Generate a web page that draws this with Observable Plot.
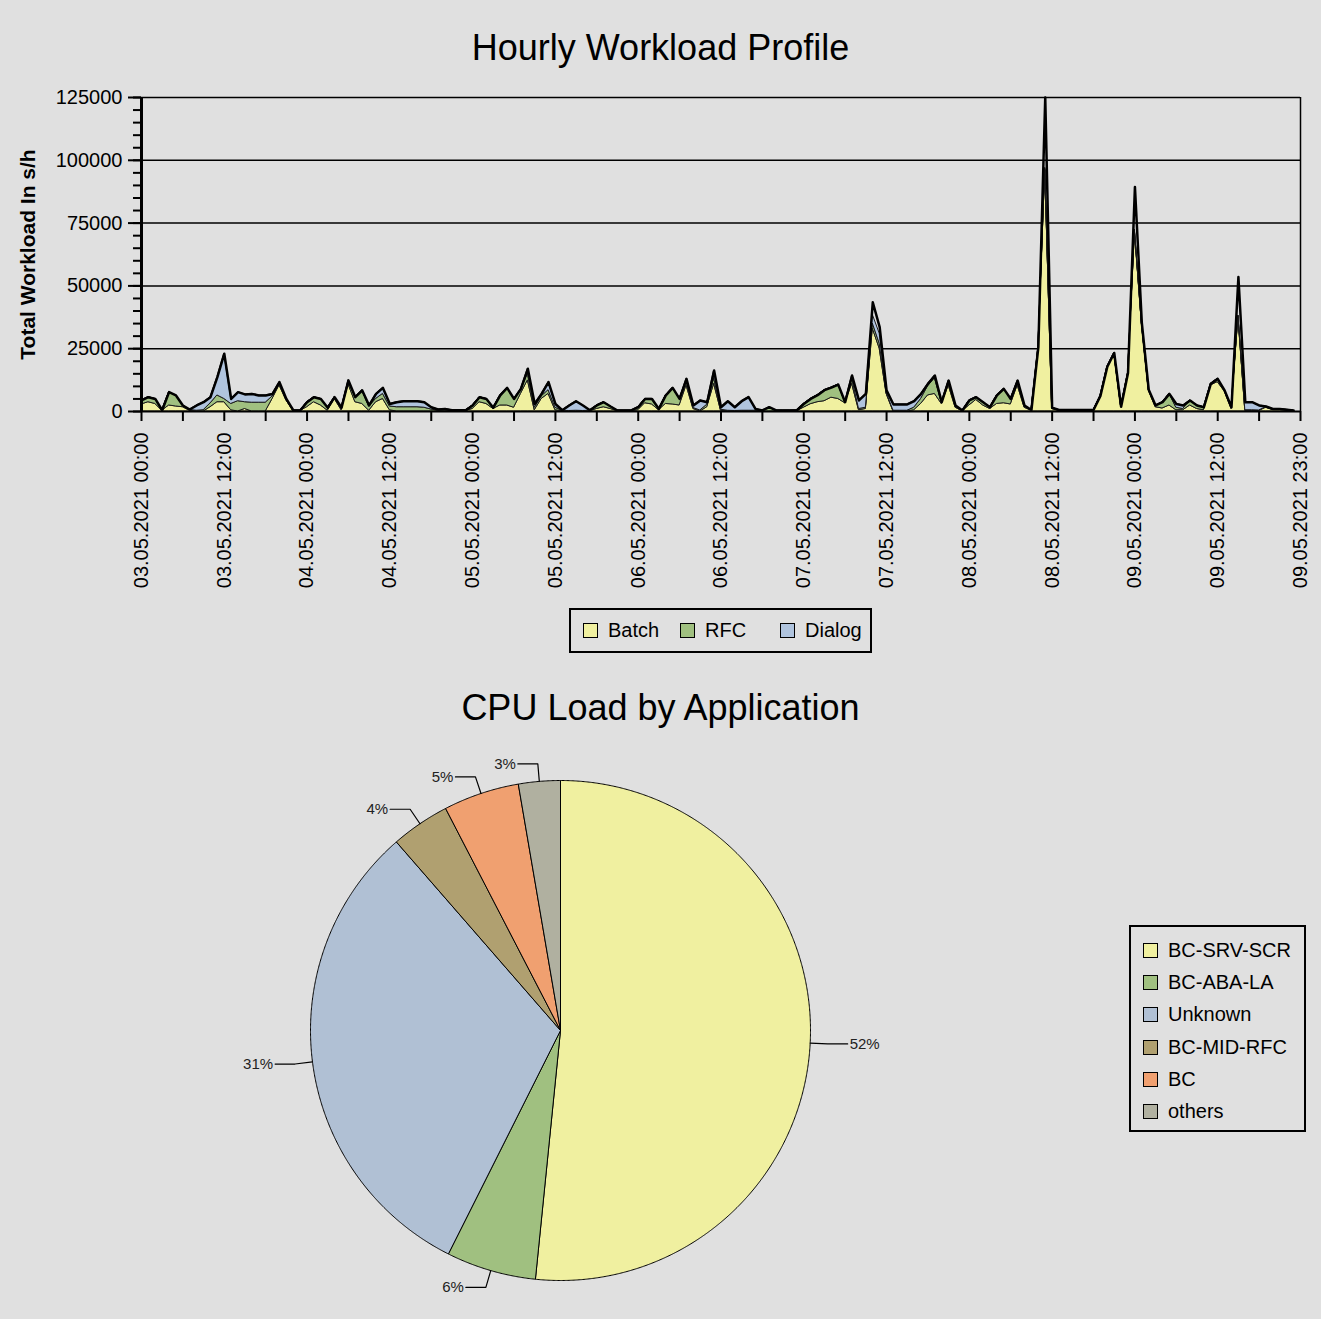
<!DOCTYPE html>
<html><head><meta charset="utf-8">
<script src="https://cdn.jsdelivr.net/npm/d3@7"></script>
<script src="https://cdn.jsdelivr.net/npm/@observablehq/plot@0.6"></script>
<style>
html,body{margin:0;padding:0;background:#e0e0e0;}
#root{position:relative;width:1321px;height:1319px;overflow:hidden;background:#e0e0e0;font-family:"Liberation Sans",Arial,sans-serif;color:#000;}
.title{position:absolute;left:0;width:1321px;text-align:center;font-size:36px;line-height:36px;}
.chart{position:absolute;left:0;}
.legend{position:absolute;border:2px solid #000;box-sizing:border-box;font-size:20px;}
.item{position:absolute;display:flex;align-items:center;white-space:nowrap;}
.sw{display:inline-block;width:15px;height:15px;border:1.5px solid #000;box-sizing:border-box;margin-right:10px;}
</style></head>
<body><div id="root">
<div class="title" style="top:30px">Hourly Workload Profile</div>
<div class="title" style="top:690px">CPU Load by Application</div>
<div id="c1" class="chart" style="top:0"></div>
<div id="c2" class="chart" style="top:680px"></div>
<div id="lg1" class="legend" style="left:569px;top:608px;width:303px;height:45px"></div>
<div id="lg2" class="legend" style="left:1129px;top:925px;width:177px;height:207px"></div>
</div>
<script>
// ---------- Hourly workload data (s/h), 03.05.2021 00:00 .. 09.05.2021 23:00 ----------
const seriesNames = ["Batch", "RFC", "Dialog"];
const seriesColors = ["#f0f0a0", "#a0c080", "#b0c4de"];
const batch = [
2800,3700,3000,300,2400,2000,1700,300,0,0,
1700,3700,3700,500,0,1000,0,0,0,5000,
10400,4400,200,200,1700,3700,2400,300,5000,500,
10800,3700,3000,300,3700,5000,500,0,0,0,
0,0,0,0,0,200,200,200,1000,3700,
3000,1000,2400,2400,1500,7000,12400,500,5000,7000,
500,100,0,0,0,100,1000,1700,1000,100,
100,100,500,3300,2800,500,3000,2800,2400,10400,
1000,0,1700,11000,300,0,0,0,0,0,
0,0,100,100,100,100,1500,2900,3700,4100,
5500,5000,3300,11000,500,1000,33000,25000,7000,0,
0,0,500,3000,6400,7000,3000,10400,1500,100,
2400,4600,2400,1000,3000,3300,2800,10400,1500,300,
25000,96000,1000,300,300,300,300,300,300,6000,
17600,23000,1700,15000,71400,35000,8400,1700,1200,2400,
500,500,2400,1000,500,10400,11700,8000,1000,37600,
200,200,200,1500,600,600,400,200];
const rfc = [
1600,2000,2000,200,5300,4400,700,300,300,500,
1500,2700,1300,2500,4100,2700,3500,3500,3500,1000,
800,300,200,100,2000,2000,2600,1200,700,1000,
1000,2000,5400,1600,1300,2000,1500,1700,1700,1700,
1700,1500,800,300,500,200,200,200,1400,2000,
2000,500,4000,7000,3500,1500,2600,1000,1000,1500,
1000,200,200,300,200,200,1400,2000,1000,200,
200,200,1200,1700,2200,500,3400,6600,2600,1600,
400,400,1000,2300,400,300,200,300,300,300,
200,1500,200,200,200,300,1500,2100,2800,4400,
4000,5700,400,2300,500,500,2000,2000,500,300,
300,300,1000,2000,3600,6300,500,1500,500,200,
2000,1100,1300,700,3400,5700,2200,1500,500,200,
500,500,300,200,200,200,200,200,200,200,
200,300,200,300,500,300,300,500,2500,4600,
1000,500,2000,1400,1200,600,1300,400,500,500,
300,300,200,200,200,200,200,100];
const dialog = [
0,0,0,0,0,0,0,200,2100,3200,
2500,7300,18000,2000,3600,3100,3500,2900,2900,1000,
500,300,100,100,0,0,0,0,0,0,
600,0,0,500,2000,2400,1000,2000,2400,2400,
2400,2200,900,500,500,100,100,100,0,0,
0,0,0,0,0,500,2000,1500,1000,3200,
1500,200,2200,3800,2200,200,0,0,0,100,
100,100,0,0,0,0,0,0,0,1000,
1000,4000,1000,3000,1000,3800,1500,3800,5400,700,
200,200,100,100,100,100,0,0,0,0,
0,0,0,1000,3400,5500,3500,4000,900,2500,
2500,2500,2600,2000,1000,1000,200,400,400,100,
0,0,0,0,0,0,0,400,400,100,
0,500,200,100,100,100,100,100,100,0,
0,0,0,0,500,0,0,200,0,0,
1500,1400,0,0,0,0,0,0,200,0,
3200,3200,2000,300,200,200,100,100];
// workload of other task types, only included in the total line: [hour, s/h]
const otherTaskPeaks = [[106,5000],[107,2600],[131,28000],[144,17000],[159,15400]];

const hourTicks = [0,12,24,36,48,60,72,84,96,108,120,132,144,156,168];
const hourTickLabels = ["03.05.2021 00:00","03.05.2021 12:00","04.05.2021 00:00","04.05.2021 12:00",
"05.05.2021 00:00","05.05.2021 12:00","06.05.2021 00:00","06.05.2021 12:00","07.05.2021 00:00",
"07.05.2021 12:00","08.05.2021 00:00","08.05.2021 12:00","09.05.2021 00:00","09.05.2021 12:00","09.05.2021 23:00"];
const yTicks = [0,25000,50000,75000,100000,125000];

// ---------- CPU load by application ----------
const apps = ["BC-SRV-SCR","BC-ABA-LA","Unknown","BC-MID-RFC","BC","others"];
const appShares = [51.6,5.8,31.2,3.8,4.9,2.7];
const appColors = ["#f0f0a0","#a0c080","#b0c0d4","#b0a070","#f0a070","#b0b0a0"];

// ---------- build stacked rows ----------
const other = new Map(otherTaskPeaks);
const stackRows = [];
const totalRows = [];
batch.forEach((b, h) => {
  const r = rfc[h], d = dialog[h];
  stackRows.push({h, s: "Batch", y1: 0, y2: b});
  stackRows.push({h, s: "RFC", y1: b, y2: b + r});
  stackRows.push({h, s: "Dialog", y1: b + r, y2: b + r + d});
  totalRows.push({h, t: b + r + d + (other.get(h) || 0)});
});
const tickLabelMap = new Map(hourTicks.map((t, i) => [t, hourTickLabels[i]]));
const font = "Liberation Sans, Arial, sans-serif";

const areaMarks = seriesNames.map((s, i) =>
  Plot.areaY(stackRows.filter(d => d.s === s), {x: "h", y1: "y1", y2: "y2", fill: seriesColors[i], stroke: "#1a1a1a", strokeWidth: 1}));

const chart1 = Plot.plot({
  width: 1321, height: 600,
  marginLeft: 141, marginRight: 21, marginTop: 97, marginBottom: 189,
  style: {background: "transparent", fontFamily: font, fontSize: "20px", color: "#000", overflow: "visible"},
  x: {domain: [0, 168], label: null},
  y: {domain: [0, 125000], label: null},
  marks: [
    Plot.ruleY(yTicks.slice(1), {stroke: "#000", strokeWidth: 1.5}),
    ...areaMarks,
    Plot.lineY(totalRows, {x: "h", y: "t", stroke: "#000", strokeWidth: 2.5}),
    Plot.ruleY([0], {stroke: "#000", strokeWidth: 2}),
    Plot.ruleX([168], {stroke: "#000", strokeWidth: 1.5}),
    Plot.ruleX([0], {stroke: "#000", strokeWidth: 3, y1: 0, y2: 125000}),
    Plot.axisY({ticks: d3.range(0, 125001, 5000), tickSize: 8, tickFormat: () => "", strokeWidth: 2, label: null}),
    Plot.axisY({ticks: yTicks, tickSize: 13, tickPadding: 6, tickFormat: d => String(d), strokeWidth: 2, fontSize: 20, label: null}),
    Plot.axisX({ticks: d3.range(0, 169, 6), tickSize: 10, tickFormat: () => "", strokeWidth: 2, label: null}),
    Plot.axisX({ticks: hourTicks, tickSize: 0, tickPadding: 21, tickRotate: -90, tickFormat: d => tickLabelMap.get(d), fontSize: 20, label: null}),
    Plot.text(["Total Workload In s/h"], {frameAnchor: "left", dx: -113, rotate: -90, textAnchor: "middle", fontSize: 21, fontWeight: "bold", fill: "#000"})
  ]
});
document.getElementById("c1").appendChild(chart1);

// ---------- pie ----------
const arcs = d3.pie().sort(null).value(d => d)(appShares);
const cx = 560, cy = 350, R = 250;
const pieMarks = [];
arcs.forEach((a, i) => {
  const pts = [{x: 0, y: 0}];
  const n = Math.max(2, Math.ceil((a.endAngle - a.startAngle) / 0.005));
  for (let k = 0; k <= n; k++) {
    const t = a.startAngle + (a.endAngle - a.startAngle) * k / n;
    pts.push({x: Math.sin(t), y: Math.cos(t)});
  }
  pts.push({x: 0, y: 0});
  pieMarks.push(Plot.line(pts, {x: "x", y: "y", fill: appColors[i], stroke: "#000", strokeWidth: 1, strokeLinejoin: "round"}));
});
const leaders = [], labels = [];
arcs.forEach((a, i) => {
  const m = (a.startAngle + a.endAngle) / 2;
  const sx = Math.sin(m), sy = Math.cos(m);
  const side = sx >= 0 ? 1 : -1;
  const p1 = {x: sx * 1.07, y: sy * 1.07};
  const p2 = {x: p1.x + side * 0.08, y: p1.y};
  leaders.push(Plot.line([{x: sx, y: sy}, p1, p2], {x: "x", y: "y", stroke: "#000", strokeWidth: 1.2}));
  labels.push({x: p2.x + side * 0.008, y: p2.y, text: Math.round(appShares[i]) + "%", anchor: side > 0 ? "start" : "end"});
});
const chart2 = Plot.plot({
  width: 1321, height: 639, margin: 0,
  style: {background: "transparent", fontFamily: font, overflow: "visible"},
  x: {domain: [-1, 1], range: [cx - R, cx + R], axis: null},
  y: {domain: [-1, 1], range: [cy + R, cy - R], axis: null},
  marks: [
    ...pieMarks,
    ...leaders,
    Plot.text(labels.filter(d => d.anchor === "start"), {x: "x", y: "y", text: "text", textAnchor: "start", fontSize: 15, fill: "#222"}),
    Plot.text(labels.filter(d => d.anchor === "end"), {x: "x", y: "y", text: "text", textAnchor: "end", fontSize: 15, fill: "#222"})
  ]
});
document.getElementById("c2").appendChild(chart2);

// ---------- legends ----------
const lg1 = document.getElementById("lg1");
const lg1x = [12, 109, 209];
seriesNames.forEach((s, i) => {
  const el = document.createElement("div");
  el.className = "item";
  el.style.left = lg1x[i] + "px"; el.style.top = "9px";
  el.innerHTML = `<span class="sw" style="background:${seriesColors[i]}"></span>${s}`;
  lg1.appendChild(el);
});
const lg2 = document.getElementById("lg2");
apps.forEach((s, i) => {
  const el = document.createElement("div");
  el.className = "item";
  el.style.left = "12px"; el.style.top = (12 + i * 32.2) + "px";
  el.innerHTML = `<span class="sw" style="background:${appColors[i]}"></span>${s}`;
  lg2.appendChild(el);
});
</script>
</body></html>
